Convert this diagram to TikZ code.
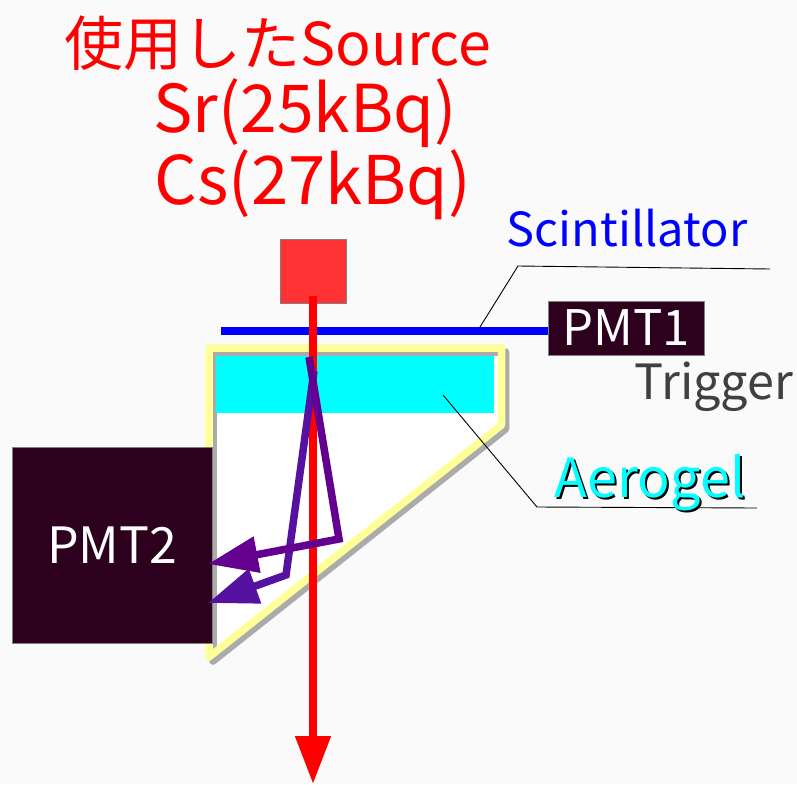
\documentclass[tikz,border=0pt]{standalone}
\usepackage{fontspec}
\setmainfont{Noto Sans CJK JP}
\usetikzlibrary{arrows.meta}

\definecolor{pmtdark}{HTML}{2D001E}
\definecolor{sourcered}{HTML}{FF3333}
\definecolor{framey}{HTML}{FFFF99}
\definecolor{pathdark}{HTML}{640090}
\definecolor{pathlight}{HTML}{5512A0}
\definecolor{bggray}{HTML}{FAFAFA}
\definecolor{gelcyan}{HTML}{00FFFF}
\definecolor{scintblue}{HTML}{0000FF}
\definecolor{beamred}{HTML}{FF0000}

\begin{document}
\begin{tikzpicture}[
    x=1pt, y=-1pt,
    pmt/.style={
      draw=gray,
      fill=pmtdark,
      text=white,
      inner sep=0pt,
      line width=0.8pt
    },
    title/.style={
      text=beamred,
      inner sep=0pt
    },
    label/.style={
      inner sep=0pt
    },
    leader/.style={
      black,
      line width=0.9pt
    },
    ray/.style={
      line width=7.5pt,
      line join=miter,
      -{Triangle[length=50pt,width=35pt]}
    }
  ]

  \useasboundingbox (0, 0) rectangle (797, 784);
  \fill[bggray] (0, 0) rectangle (797, 784);

  % aerogel box
  \coordinate (c1) at (209, 348);
  \coordinate (c2) at (501.5, 348);
  \coordinate (c3) at (501.5, 425);
  \coordinate (c4) at (209, 657);
  \coordinate (d1) at (213, 352);
  \coordinate (d2) at (505.5, 352);
  \coordinate (d3) at (505.5, 429);
  \coordinate (d4) at (213, 661);
  \fill[white] (c1) -- (c2) -- (c3) -- (c4) -- cycle;
  \draw[line width=7.5pt, line join=round, color=black!33] (d1) -- (d2) -- (d3) -- (d4) -- cycle;
  \draw[line width=7.5pt, line join=round, color=framey] (c1) -- (c2) -- (c3) -- (c4) -- cycle;
  \node[fill=gelcyan, inner sep=0pt, minimum width=278pt, minimum height=57pt] (aerogel) at (355, 384.5) {};

  % scintillator
  \coordinate (s1) at (221, 331);
  \node[pmt, minimum width=156pt, minimum height=54pt, font=\fontsize{49}{49}\selectfont] (pmt1) at (626, 328) {PMT1};
  \draw[scintblue, line width=7.5pt] (s1) -- (s1 -| pmt1.west);

  \node[pmt, minimum width=200pt, minimum height=196pt, font=\fontsize{50}{50}\selectfont] (pmt2) at (112, 545) {PMT2};

  \node[draw=gray, fill=sourcered, line width=0.8pt, inner sep=0pt, minimum width=66pt, minimum height=64pt] (source) at (313, 271) {};

  % leader lines
  \coordinate (l1) at (480, 327);
  \coordinate (l2) at (518, 266);
  \coordinate (l3) at (770, 269);
  \draw[leader] (l1) -- (l2) -- (l3);
  \coordinate (l4) at (443, 395);
  \coordinate (l5) at (537, 507);
  \coordinate (l6) at (757, 508);
  \draw[leader] (l4) -- (l5) -- (l6);

  % beam
  \coordinate (b1) at (313, 296);
  \coordinate (b2) at (313, 784);
  \draw[beamred, line width=8pt, -{Triangle[length=48pt,width=34pt]}] (b1) -- (b2);

  % cherenkov light
  \coordinate (r1) at (314, 371);
  \coordinate (r2) at (286, 575);
  \coordinate (r3) at (208, 603);
  \draw[ray, pathlight] (r1) -- (r2) -- (r3);
  \coordinate (r4) at (309, 357);
  \coordinate (r5) at (339, 539);
  \coordinate (r6) at (208, 564);
  \draw[ray, pathdark] (r4) -- (r5) -- (r6);

  % labels
  \node[title, font=\fontsize{59}{59}\selectfont] (title1) at (278, 43) {使用したSource};
  \node[title, font=\fontsize{66}{66}\selectfont] (title2) at (305, 113) {Sr(25kBq)};
  \node[title, font=\fontsize{67}{67}\selectfont] (title3) at (313, 185) {Cs(27kBq)};
  \node[label, text=scintblue, font=\fontsize{47}{47}\selectfont] (scint) at (627, 228) {Scintillator};
  \node[label, text=black!75, font=\fontsize{48.5}{48.5}\selectfont] (trigger) at (714, 387) {Trigger};
  \node[label, text=black, font=\fontsize{54}{54}\selectfont] (aeroshadow) at (652, 485) {Aerogel};
  \node[label, text=gelcyan, font=\fontsize{54}{54}\selectfont] (aerotext) at (650, 483) {Aerogel};

\end{tikzpicture}
\end{document}
